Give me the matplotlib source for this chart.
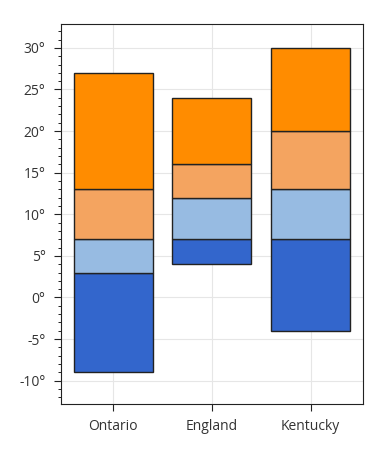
import matplotlib
matplotlib.use("Agg")
import matplotlib.pyplot as plt
from matplotlib.ticker import MultipleLocator, FuncFormatter

plt.rcParams['font.family'] = ['Open Sans', 'DejaVu Sans']

places = ['Ontario', 'England', 'Kentucky']
# band edges (degrees), low -> high
edges = [
    [-9, 3, 7, 13, 27],
    [4, 7, 12, 16, 24],
    [-4, 7, 13, 20, 30],
]
colors = ['#3366cc', '#97bbe2', '#f4a460', '#ff8c00']

fig = plt.figure(figsize=(3.85, 4.57), dpi=100)
ax = fig.add_axes([0.158, 0.116, 0.785, 0.832])

x = range(len(places))
for band in range(4):
    bottoms = [e[band] for e in edges]
    heights = [e[band + 1] - e[band] for e in edges]
    ax.bar(x, heights, bottom=bottoms, width=0.8, color=colors[band],
           edgecolor='#222222', linewidth=1.0, zorder=3)

ax.set_xticks(list(x))
ax.set_xticklabels(places)
ax.set_xlim(-0.53, 2.53)
ax.set_ylim(-12.8, 32.9)
ax.yaxis.set_major_locator(MultipleLocator(5))
ax.yaxis.set_minor_locator(MultipleLocator(1))
ax.yaxis.set_major_formatter(FuncFormatter(lambda v, p: '%d°' % v))
ax.grid(True, color='#e6e6e6', linewidth=0.8, zorder=0)
ax.set_axisbelow(True)
ax.tick_params(axis='both', labelsize=10, colors='#222222', labelcolor='#333333',
               length=5, pad=6)
ax.tick_params(axis='y', which='minor', length=2.5)
for s in ax.spines.values():
    s.set_color('#222222')

fig.savefig('out.png', dpi=100)
